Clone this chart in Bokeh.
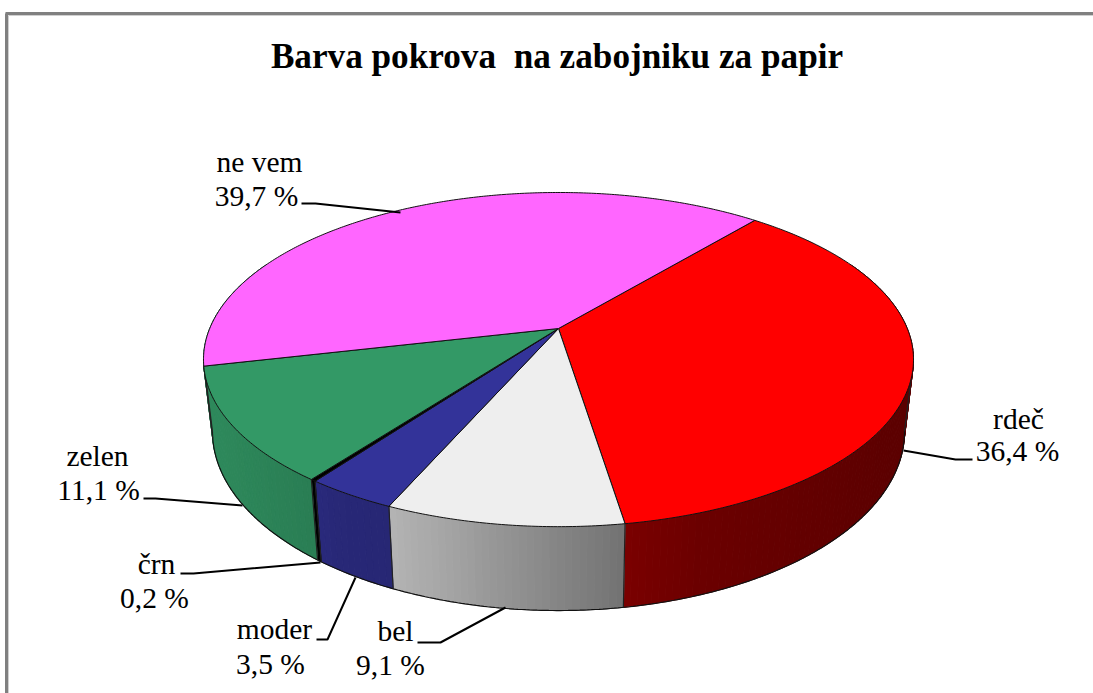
import numpy as np
from bokeh.plotting import figure
from bokeh.embed import file_html
from bokeh.resources import INLINE
from bokeh.core.properties import value

TITLE = "Barva pokrova \u00a0na zabojniku za papir"
names = ["rdeč", "bel", "moder", "črn", "zelen", "ne vem"]
shares = [36.4, 9.1, 3.5, 0.2, 11.1, 39.7]
colors = [(255, 0, 0), (238, 238, 238), (51, 51, 153), (0, 0, 0), (51, 153, 102), (255, 102, 255)]

# layout: (name centre x, name y, value centre x, value y)
label_pos = [(1018, 418, 1017, 450), (395, 630, 390, 664), (274, 628, 270, 663),
             (156, 563, 154, 597), (97, 455, 98, 489), (259, 161, 256, 195)]
leaders = [[(972, 459), (955, 459), (903, 450)], [(417, 642), (440, 642), (505, 607)],
           [(316, 639), (327, 639), (355, 577)], [(180, 573), (193, 573), (320, 562)],
           [(143, 498), (155, 498), (242, 505)], [(301, 203), (315, 203), (400, 212)]]

START = 40.0
P = 0.186
CX = 558.0
TOP = dict(R=348.8, S=161.3, cy=328.0)
BOT = dict(R=340.0, S=173.0, cy=397.5)
SIL = 79.3  # degrees from the centre line where the rim turns away
shade_x = [200, 230, 310, 330, 385, 625, 700, 900, 920]
shade_f = [0.90, 0.88, 0.82, 0.78, 0.76, 0.48, 0.42, 0.36, 0.36]


def project(deg, plane):
    a = np.radians(deg)
    u, v = np.sin(a), np.cos(a)
    w = 1 + P * v
    return CX + plane["R"] * u / w, plane["cy"] - plane["S"] * v / w


def hexc(rgb, f=1.0):
    return "#%02x%02x%02x" % tuple(int(round(c * f)) for c in rgb)


p = figure(width=1093, height=693, x_range=(0, 1093), y_range=(693, 0),
           output_backend="svg", toolbar_location=None, min_border=0,
           x_axis_type=None, y_axis_type=None, outline_line_color=None,
           background_fill_color="white", border_fill_color="white")
p.grid.visible = False

# frame
p.line([6, 6], [13, 693], line_color="#808080", line_width=3)
p.line([5, 1093], [13, 13], line_color="#808080", line_width=3)
p.line([8, 8], [15, 693], line_color="#d0d0d0", line_width=1)
p.line([8, 1093], [15, 15], line_color="#d0d0d0", line_width=1)

edges = START + np.concatenate([[0], np.cumsum(shares)]) * 3.6
edges[-1] = START + 360

# side wall, as thin shaded strips (the green wall also covers the small turn past the silhouette)
for i, rgb in enumerate(colors[:-1]):
    a = max(edges[i], 65)
    b = 295 if i == len(colors) - 2 else edges[i + 1]
    n = max(2, int(b - a))
    grid = np.linspace(a, b, n + 1)
    xs, ys, fc = [], [], []
    for d0, d1 in zip(grid[:-1], grid[1:]):
        x0, y0 = project(d0, TOP)
        x1, y1 = project(d1, TOP)
        x2, y2 = project(d1, BOT)
        x3, y3 = project(d0, BOT)
        xs.append([x0, x1, x2, x3])
        ys.append([y0, y1, y2, y3])
        fc.append(hexc(rgb, float(np.interp((x0 + x1) / 2, shade_x, shade_f))))
    p.patches(xs, ys, fill_color=fc, line_color=fc, line_width=1)

# rim and silhouette
rim = np.linspace(180 - SIL, 180 + SIL, 300)
rx, ry = project(rim, BOT)
p.line(rx, ry, line_color="#111111", line_width=1.2)
for e in list(edges[1:-1]) + [180 - SIL, 180 + SIL]:
    if 90 < (e % 360) < 280:
        x0, y0 = project(e, TOP)
        x1, y1 = project(e, BOT)
        p.line([x0, x1], [y0, y1], line_color="#222222", line_width=1.2)

# top face
for i, rgb in enumerate(colors):
    n = max(2, int((edges[i + 1] - edges[i]) * 2))
    d = np.linspace(edges[i], edges[i + 1], n + 1)
    x, y = project(d, TOP)
    px = np.concatenate([[CX], x])
    py = np.concatenate([[TOP["cy"]], y])
    p.patch(px, py, fill_color=hexc(rgb), line_color="#111111", line_width=1)

# leaders and labels
for pts in leaders:
    p.line([q[0] for q in pts], [q[1] for q in pts], line_color="black", line_width=2)

for name, share, (nx, ny, vx, vy) in zip(names, shares, label_pos):
    txt = f"{share:.1f} %".replace(".", ",")
    p.text([nx], [ny], text=[name], text_font=value("Liberation Serif"), text_font_size="29.5px",
           text_align="center", text_baseline="alphabetic", text_color="black")
    p.text([vx], [vy], text=[txt], text_font=value("Liberation Serif"), text_font_size="29.5px",
           text_align="center", text_baseline="alphabetic", text_color="black")

p.text([556.5], [56], text=[TITLE], text_font=value("Liberation Serif"), text_font_size="35.2px",
       text_font_style="bold", text_align="center", text_baseline="alphabetic", text_color="black")

open("out.html", "w").write(file_html(p, INLINE))
